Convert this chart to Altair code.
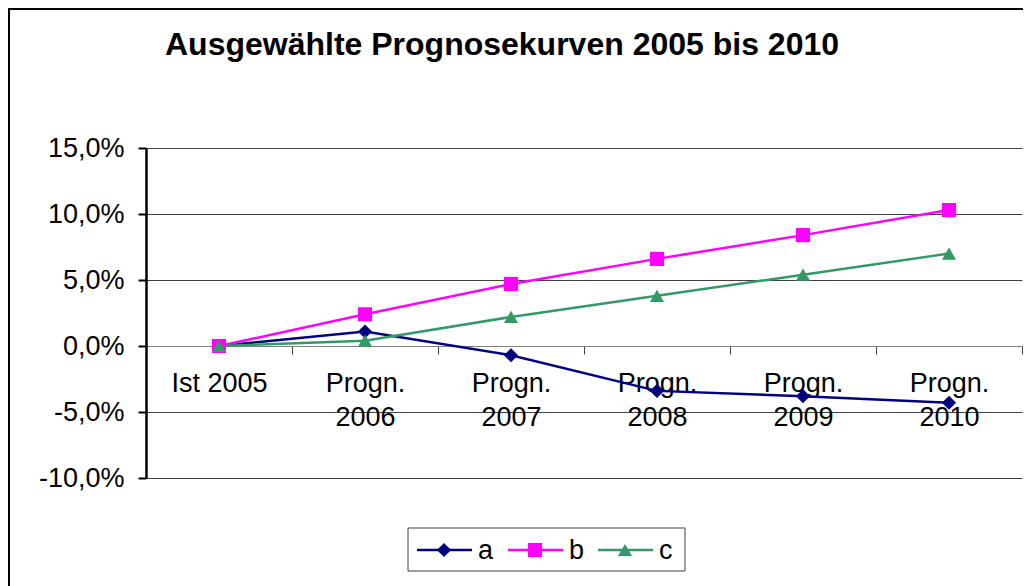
import altair as alt
import pandas as pd

categories = ["Ist 2005", "Progn.\n2006", "Progn.\n2007", "Progn.\n2008", "Progn.\n2009", "Progn.\n2010"]
series_names = ["a", "b", "c"]
values_a = [0.0, 1.1, -0.7, -3.4, -3.8, -4.3]
values_b = [0.0, 2.4, 4.7, 6.6, 8.4, 10.3]
values_c = [0.0, 0.4, 2.2, 3.8, 5.4, 7.0]
y_ticks = [-10, -5, 0, 5, 10, 15]
title_text = "Ausgewählte Prognosekurven 2005 bis 2010"

colors = ["#000080", "#FF00FF", "#339966"]
shapes = ["diamond", "square", "triangle-up"]
sizes = [200, 200, 230]

rows = []
for name, vals in zip(series_names, [values_a, values_b, values_c]):
    for cat, v in zip(categories, vals):
        rows.append({"cat": cat, "series": name, "value": v})
df = pd.DataFrame(rows)

FONT = "Liberation Sans"
W, H = 876, 330

x_enc = alt.X(
    "cat:N", sort=categories, bandPosition=0.5,
    scale=alt.Scale(type="band", paddingInner=0, paddingOuter=0),
    axis=alt.Axis(
        title=None, orient="bottom", offset=-132, domain=True, domainColor="#808080",
        domainWidth=1, tickBand="extent", tickSize=8, tickColor="#404040", tickWidth=1,
        labelAngle=0, labelExpr="split(datum.label, '\\n')", labelLineHeight=34,
        labelFontSize=27, labelFont=FONT, labelColor="black", labelPadding=16,
        labelBaseline="top", grid=False,
    ),
)
y_enc = alt.Y(
    "value:Q",
    scale=alt.Scale(domain=[-10, 15], nice=False, zero=False),
    axis=alt.Axis(
        title=None, values=y_ticks,
        labelExpr="replace(replace(format(datum.value, '.1f'), '.', ','), '\u2212', '-') + '%'",
        labelFontSize=27, labelFont=FONT, labelColor="black", labelPadding=14,
        domainColor="black", domainWidth=2.5, tickColor="black", tickSize=8, tickWidth=2,
        grid=True, gridColor="#404040", gridWidth=1,
    ),
)
color_enc = alt.Color("series:N", scale=alt.Scale(domain=series_names, range=colors), legend=None)
shape_enc = alt.Shape("series:N", scale=alt.Scale(domain=series_names, range=shapes), legend=None)
size_enc = alt.Size("series:N", scale=alt.Scale(domain=series_names, range=sizes), legend=None)

base = alt.Chart(df)
lines = base.mark_line(strokeWidth=2.5).encode(x=x_enc, y=y_enc, color=color_enc, detail="series:N")
points = base.mark_point(filled=True, opacity=1).encode(
    x=x_enc, y=y_enc, color=color_enc, shape=shape_enc, size=size_enc
)

one = pd.DataFrame({"k": [0]})
frame = alt.Chart(one).mark_rect(fill=None, stroke="black", strokeWidth=2).encode(
    x=alt.value(-137), x2=alt.value(W + 40), y=alt.value(-139), y2=alt.value(H + 200)
)
title = alt.Chart(one).mark_text(
    text=title_text, font=FONT, fontSize=32, fontWeight="bold", align="center", baseline="middle", color="black"
).encode(x=alt.value(356), y=alt.value(-103))

# manual legend
legend_layers = [
    alt.Chart(one).mark_rect(fill="white", stroke="#404040", strokeWidth=1).encode(
        x=alt.value(262), x2=alt.value(539), y=alt.value(380), y2=alt.value(423)
    )
]
leg_line_x = [271, 362, 452]
for i, name in enumerate(series_names):
    lx = leg_line_x[i]
    ld = pd.DataFrame({"series": [name]})
    legend_layers.append(
        alt.Chart(ld).mark_rule(strokeWidth=2.5).encode(
            x=alt.value(lx), x2=alt.value(lx + 55), y=alt.value(402),
            color=alt.Color("series:N", scale=alt.Scale(domain=series_names, range=colors), legend=None),
        )
    )
    legend_layers.append(
        alt.Chart(ld).mark_point(filled=True, opacity=1).encode(
            x=alt.value(lx + 27), y=alt.value(402),
            color=alt.Color("series:N", scale=alt.Scale(domain=series_names, range=colors), legend=None),
            shape=alt.Shape("series:N", scale=alt.Scale(domain=series_names, range=shapes), legend=None),
            size=alt.Size("series:N", scale=alt.Scale(domain=series_names, range=sizes), legend=None),
        )
    )
    legend_layers.append(
        alt.Chart(ld).mark_text(font=FONT, fontSize=27, align="left", baseline="middle", color="black").encode(
            x=alt.value(lx + 61), y=alt.value(403), text="series:N"
        )
    )

chart = alt.layer(frame, title, lines, points, *legend_layers).resolve_scale(
    color="shared", shape="shared", size="shared"
).properties(
    width=W, height=H,
    autosize=alt.AutoSizeParams(type="none"),
    padding={"left": 138, "top": 140, "right": 1, "bottom": 108},
    background="white",
).configure_view(stroke=None)

chart.save("out.html", embed_options={"renderer": "svg", "actions": False})
